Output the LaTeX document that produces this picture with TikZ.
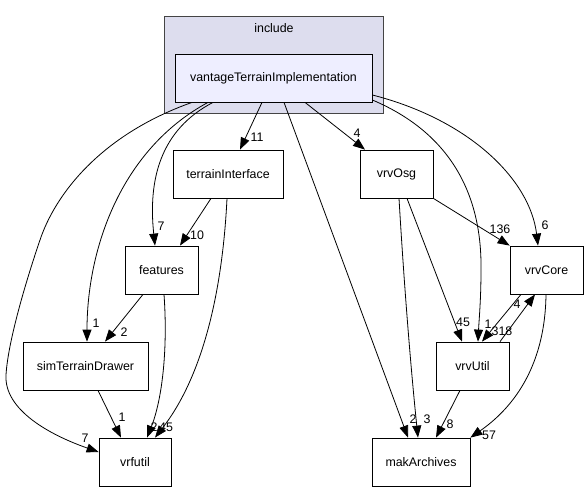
\documentclass[tikz,border=0pt]{standalone}
\usepackage{fontspec}
\setmainfont{Liberation Sans}
\usetikzlibrary{arrows.meta}
\definecolor{clusterfill}{HTML}{DDDDEE}
\definecolor{clusterline}{HTML}{444444}
\definecolor{mainfill}{HTML}{EEEEFF}
\begin{document}
\begin{tikzpicture}[x=1pt,y=-1pt,
  txt/.style={font=\fontsize{12.4}{14}\selectfont},
  box/.style={draw=black, fill=white, line width=0.8pt, minimum width=#1, minimum height=48pt, inner sep=0pt, txt},
  edge/.style={draw=black, line width=0.8pt, -{Triangle[length=12pt,width=9pt]}},
  lbl/.style={txt, inner sep=0pt}]
\useasboundingbox (0,0) rectangle (588,492);
\fill[white] (0,0) rectangle (588,492);
% cluster
\node[draw=clusterline, fill=clusterfill, line width=0.8pt, minimum width=219pt, minimum height=97pt, inner sep=0pt] (cluster) at (274,64.5) {};
\node[txt, inner sep=0pt] (clusterlabel) at (274,28) {include};
% nodes
\node[box=197pt, fill=mainfill] (main) at (273.5,78) {vantageTerrainImplementation};
\node[box=110pt] (ti) at (228,174) {terrainInterface};
\node[box=73pt] (osg) at (396.5,174) {vrvOsg};
\node[box=73pt] (feat) at (161.5,270) {features};
\node[box=73pt] (core) at (546.5,270) {vrvCore};
\node[box=125pt] (sim) at (85.5,366) {simTerrainDrawer};
\node[box=73pt] (util) at (472.5,366) {vrvUtil};
\node[box=72pt] (vrf) at (135,462) {vrfutil};
\node[box=98pt] (mak) at (421,462) {makArchives};
% edges from main
\draw[edge] ([xshift=-81.5pt]main.south) .. controls (100,135) and (55,195) .. (40,240)
   .. controls (28,275) and (8,340) .. (6,375) .. controls (4,410) and (50,435) .. ([yshift=10pt]vrf.west)
   node[lbl] (l1) at (85,438) {7};
\draw[edge] ([xshift=-65.5pt]main.south) .. controls (120,150) and (87,250) .. ([xshift=1.5pt]sim.north)
   node[lbl] (l2) at (96,323) {1};
\draw[edge] ([xshift=-60.5pt]main.south) .. controls (160,130) and (148,180) .. ([xshift=-6.5pt]feat.north)
   node[lbl] (l3) at (161,226) {7};
\draw[edge] ([xshift=-11.5pt]main.south) -- ([xshift=12pt]ti.north)
   node[lbl] (l4) at (257,137) {11};
\draw[edge] ([xshift=10.5pt]main.south) -- ([xshift=-13pt]mak.north)
   node[lbl] (l5) at (413,419) {2};
\draw[edge] ([xshift=31.5pt]main.south) -- ([xshift=-31.5pt]osg.north)
   node[lbl] (l6) at (357,133) {4};
\draw[edge] ([yshift=-22pt]main.east) .. controls (455,135) and (482,200) .. (481,270)
   .. controls (481,300) and (479,320) .. ([xshift=5.5pt]util.north)
   node[lbl] (l7) at (488,324) {1};
\draw[edge] ([yshift=-17pt]main.east) .. controls (470,120) and (530,180) .. ([xshift=-8.5pt]core.north)
   node[lbl] (l8) at (545,225) {6};
% terrainInterface
\draw[edge] ([xshift=-17pt]ti.south) -- ([xshift=18.5pt]feat.north)
   node[lbl] (l9) at (197,235) {10};
\draw[edge] ([xshift=-1pt]ti.south) .. controls (222,300) and (200,380) .. ([xshift=20pt]vrf.north)
   node[lbl] (l10) at (166,427) {45};
% vrvOsg
\draw[edge] ([xshift=2.5pt]osg.south) .. controls (405,300) and (412,380) .. ([xshift=-3pt]mak.north)
   node[lbl] (l14) at (427,419) {3};
\draw[edge] ([xshift=10.5pt]osg.south) -- ([xshift=-10.5pt]util.north)
   node[lbl] (l15) at (463,322) {45};
\draw[edge] (osg.south east) -- (core.north west)
   node[lbl] (l16) at (500,229) {136};
% features
\draw[edge] ([xshift=-18.5pt]feat.south) -- ([xshift=19.5pt]sim.north)
   node[lbl] (l11) at (124,332) {2};
\draw[edge] ([xshift=2.5pt]feat.south) .. controls (168,350) and (162,400) .. ([xshift=12pt]vrf.north)
   node[lbl] (l12) at (154,427) {2};
% simTerrainDrawer
\draw[edge] ([xshift=12.5pt]sim.south) -- ([xshift=-14pt]vrf.north)
   node[lbl] (l13) at (122,417) {1};
% vrvCore / vrvUtil
\draw[edge] ([xshift=-25.5pt]core.south) -- ([xshift=9.5pt]util.north)
   node[lbl] (l17) at (502,331) {318};
\draw[edge] ([xshift=27.5pt]util.north) -- ([xshift=-11.5pt]core.south)
   node[lbl] (l18) at (517,304) {4};
\draw[edge] ([xshift=-0.5pt]core.south) .. controls (545,370) and (510,410) .. (mak.north east)
   node[lbl] (l19) at (489,435) {57};
\draw[edge] ([xshift=-12.5pt]util.south) -- ([xshift=15pt]mak.north)
   node[lbl] (l20) at (450,424) {8};
\end{tikzpicture}
\end{document}
